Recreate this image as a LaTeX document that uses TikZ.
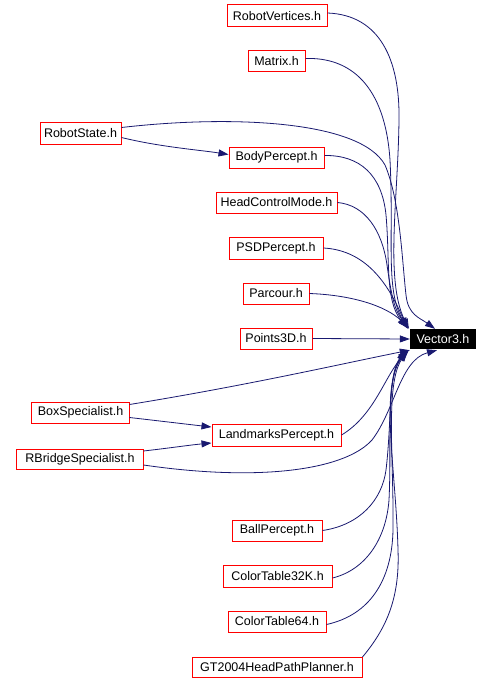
\documentclass[tikz,border=0pt]{standalone}
\usepackage{fontspec}
\setmainfont{Liberation Sans}
\usetikzlibrary{arrows.meta,calc}
\definecolor{edgecol}{HTML}{191970}
\definecolor{boxred}{HTML}{FF0000}
\begin{document}
\begin{tikzpicture}[x=1bp,y=-1bp,
  file/.style={draw=boxred,line width=1bp,fill=white,inner sep=0pt,minimum height=21bp,font=\fontsize{12.5bp}{14bp}\selectfont},
  mainfile/.style={fill=black,text=white,inner sep=0pt,minimum height=20bp,minimum width=66bp,font=\fontsize{12.5bp}{14bp}\selectfont},
  edge/.style={draw=edgecol,line width=0.8bp,-{Triangle[length=10bp,width=7bp]}}]
\useasboundingbox (0,0) rectangle (492,684);
\fill[white] (0,0) rectangle (492,684);
% nodes
\node[file,minimum width=100bp,minimum height=22bp] (rv) at (277,16) {RobotVertices.h};
\node[file,minimum width=57bp] (mx) at (276.5,61.5) {Matrix.h};
\node[file,minimum width=81bp] (rs) at (80.5,133.5) {RobotState.h};
\node[file,minimum width=95bp] (bp) at (276.5,157.5) {BodyPercept.h};
\node[file,minimum width=121bp] (hcm) at (276.5,202.5) {HeadControlMode.h};
\node[file,minimum width=94bp,minimum height=22bp] (psd) at (276,248) {PSDPercept.h};
\node[file,minimum width=66bp] (par) at (276,293.5) {Parcour.h};
\node[file,minimum width=72bp] (p3d) at (276,338.5) {Points3D.h};
\node[mainfile] (v3) at (443,339) {Vector3.h};
\node[file,minimum width=97bp] (bs) at (80.5,412.5) {BoxSpecialist.h};
\node[file,minimum width=129bp,minimum height=22bp] (lp) at (276.5,435) {LandmarksPercept.h};
\node[file,minimum width=126bp,minimum height=20bp] (rb) at (80,459) {RBridgeSpecialist.h};
\node[file,minimum width=90bp] (ball) at (277,530.5) {BallPercept.h};
\node[file,minimum width=109bp,minimum height=22bp] (ct32) at (277.5,576) {ColorTable32K.h};
\node[file,minimum width=98bp] (ct64) at (277,621.5) {ColorTable64.h};
\node[file,minimum width=170bp,minimum height=20bp] (gt) at (277,667) {GT2004HeadPathPlanner.h};
% edges from above
\draw[edge] ($(rv.east)+(0,-3)$) .. controls (380,15) and (400,60) .. (399,120) .. controls (398,200) and (385,280) .. ($(v3.north west)+(-1,0)$);
\draw[edge] ($(mx.east)+(0,-3)$) .. controls (350,57) and (385,85) .. (390,160) .. controls (394,240) and (385,290) .. ($(v3.north west)+(-2,0)$);
\draw[edge] ($(rs.east)+(0,-6)$) .. controls (230,115) and (360,120) .. (385,165) .. controls (400,200) and (402,260) .. (406,295) .. controls (408,315) and (420,318) .. ($(v3.north)+(-8,0)$);
\draw[edge] ($(rs.east)+(0,4)$) .. controls (160,147) and (200,150) .. ($(bp.west)+(0,-3)$);
\draw[edge] ($(bp.east)+(0,-2)$) .. controls (360,155) and (382,175) .. (386,215) .. controls (390,260) and (385,300) .. ($(v3.north west)+(-3,-1)$);
\draw[edge] (hcm.east) .. controls (365,205) and (382,230) .. (387,265) .. controls (392,300) and (395,310) .. ($(v3.north west)+(-2,-1)$);
\draw[edge] (psd.east) .. controls (360,250) and (385,275) .. ($(v3.north west)+(-3,-1)$);
\draw[edge] (par.east) .. controls (350,295) and (385,305) .. ($(v3.north west)+(-1,-1)$);
\draw[edge] (p3d.east) -- (v3.west);
% edges from below
\draw[edge] ($(bs.east)+(0,-8)$) .. controls (250,385) and (350,362) .. ($(v3.south west)+(0,1)$);
\draw[edge] ($(bs.east)+(0,5)$) .. controls (160,421) and (185,424) .. ($(lp.west)+(0,-8)$);
\draw[edge] ($(rb.east)+(0,-8)$) .. controls (170,448) and (190,445) .. ($(lp.west)+(0,8)$);
\draw[edge] (lp.east) .. controls (375,415) and (385,375) .. ($(v3.south west)+(-1,1)$);
\draw[edge] ($(rb.east)+(0,6)$) .. controls (260,482) and (345,470) .. (372,440) .. controls (395,410) and (400,360) .. ($(v3.south)+(-6,1)$);
\draw[edge] (ball.east) .. controls (360,525) and (382,500) .. (386,470) .. controls (392,420) and (388,370) .. ($(v3.south west)+(-2,1)$);
\draw[edge] ($(ct32.east)+(0,2)$) .. controls (365,570) and (386,540) .. (389,500) .. controls (392,440) and (385,380) .. ($(v3.south west)+(-3,1)$);
\draw[edge] ($(ct64.east)+(0,3)$) .. controls (370,615) and (392,580) .. (393,530) .. controls (394,460) and (385,385) .. ($(v3.south west)+(-3,2)$);
\draw[edge] ($(gt.east)+(0,-10)$) .. controls (385,630) and (400,600) .. (398,550) .. controls (396,470) and (380,390) .. ($(v3.south west)+(-4,2)$);
\end{tikzpicture}
\end{document}
